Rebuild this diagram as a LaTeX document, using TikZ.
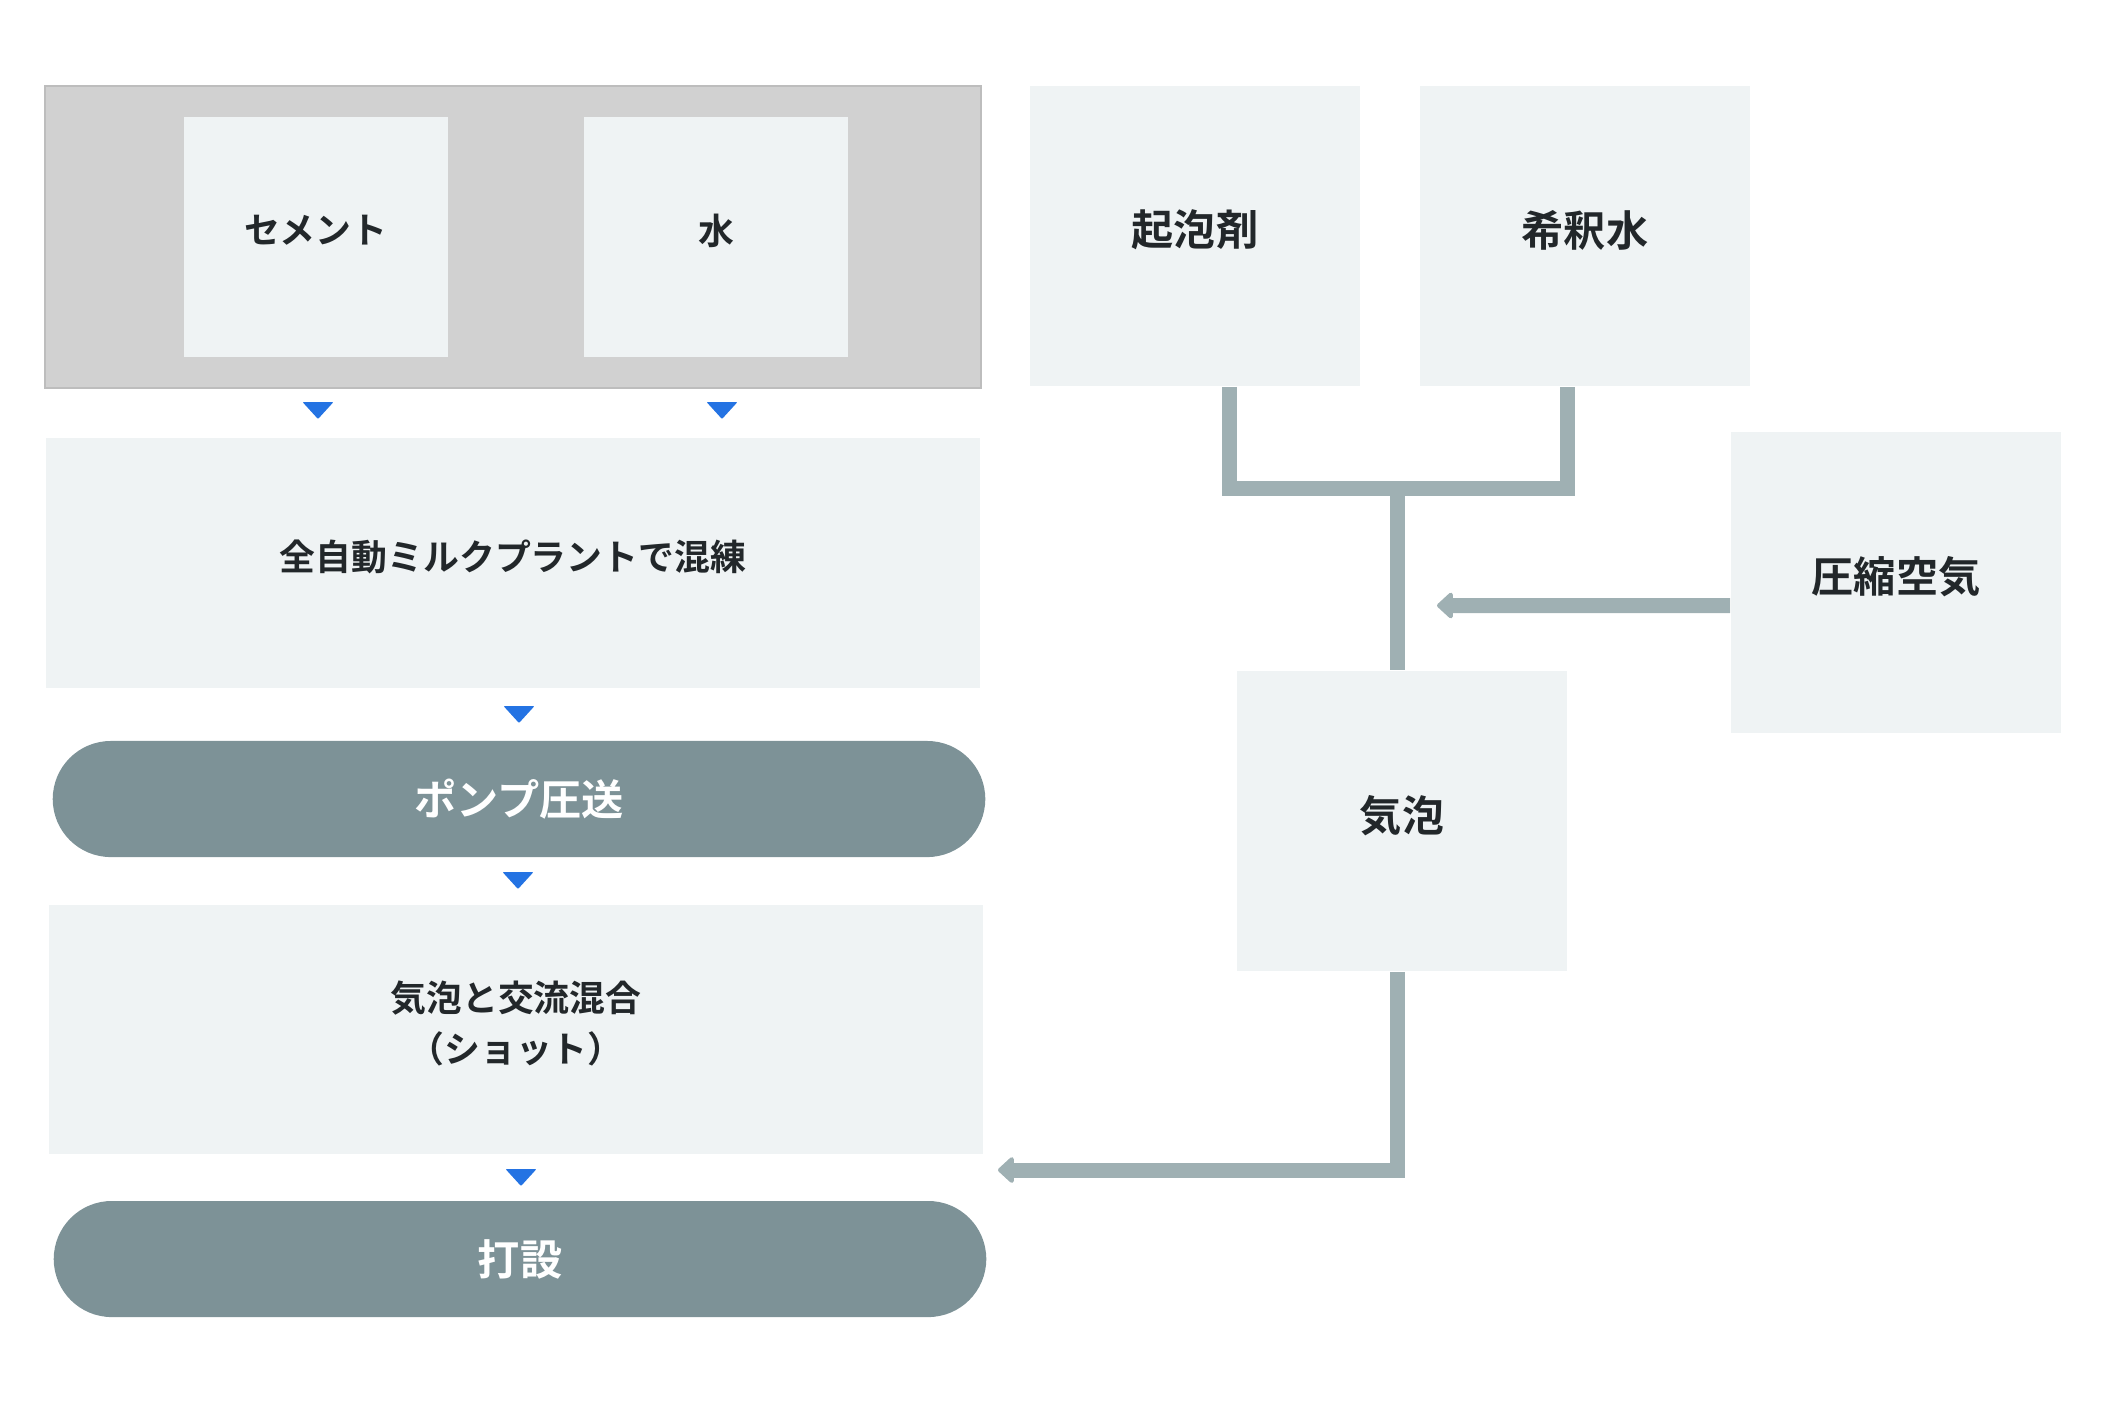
\documentclass[tikz,border=0pt]{standalone}
\usepackage{fontspec}
\setmainfont{Noto Sans CJK JP}[BoldFont={Noto Sans CJK JP Bold}]
\usepackage{tikz}
\usetikzlibrary{calc}
\usetikzlibrary{arrows.meta}

\definecolor{tilefill}{HTML}{EFF3F4}
\definecolor{framefill}{HTML}{D1D1D1}
\definecolor{frameline}{HTML}{BDBDBD}
\definecolor{pillfill}{HTML}{7D9297}
\definecolor{pipecol}{HTML}{9FB0B3}
\definecolor{marker}{HTML}{2473E3}
\definecolor{ink}{HTML}{22272A}

\tikzset{
  tile/.style 2 args={fill=tilefill, minimum width=#1 cm, minimum height=#2 cm, inner sep=0, text=ink, align=center, text depth=0.15cm, font=\bfseries\fontsize{10.2}{14.5}\selectfont},
  bigtile/.style={tile={3.3}{3.0}, text depth=0.16cm, font=\bfseries\fontsize{12}{16}\selectfont},
  pillbox/.style={fill=pillfill, rounded corners=0.58cm, minimum width=9.32cm, minimum height=1.16cm, inner sep=0, text=white, font=\bfseries\fontsize{12}{16}\selectfont},
  pipe/.style={draw=pipecol, line width=0.15cm},
  feed/.style={pipe, -{Triangle[length=0.17cm, width=0.30cm, round]}}
}

\begin{document}
\begin{tikzpicture}[x=0.01cm, y=-0.01cm]
\useasboundingbox (0,0) rectangle (2107,1405);

\node[tile={9.36}{3.02}, fill=framefill, draw=frameline, line width=0.02cm] (group) at (513,237) {};
\node[tile={2.64}{2.40}] (cement) at (316,237) {セメント};
\node[tile={2.64}{2.40}] (water) at (716,237) {水};
\node[tile={9.34}{2.50}] (mix) at (513,563) {全自動ミルクプラントで混練};
\node[pillbox] (pump) at (519,799) {ポンプ圧送};
\node[tile={9.34}{2.49}, text depth={}] (shot) at (516,1029.5) {気泡と交流混合\\（ショット）\rule[-0.15cm]{0pt}{0.15cm}};
\node[pillbox] (cast) at (520,1259) {打設};

\node[bigtile] (foam) at (1195,236) {起泡剤};
\node[bigtile] (dilute) at (1585,236) {希釈水};
\node[bigtile] (air) at (1896,582.5) {圧縮空気};
\node[bigtile] (bubble) at (1402,821) {気泡};

\foreach \x/\y in {318/410.5, 722/410.5, 519/714.5, 518/880.5, 521/1177.5} \fill[marker, rounded corners=0.01cm] (\x-15.5,\y-8.5) -- ++(31,0) -- ++(-15.5,17) -- cycle;

\coordinate (join) at (1397.5,488);
\coordinate (airin) at (1437,605.5);
\coordinate (shotin) at (998,1170);

\draw[pipe] ([xshift=0.345cm]foam.south) |- (join) -| ([xshift=-0.18cm]dilute.south);
\draw[pipe] (join) -- (join |- bubble.north);
\draw[feed] ([yshift=-0.23cm]air.west) -- (airin);
\draw[feed] (join |- bubble.south) |- (shotin);

\end{tikzpicture}
\end{document}
